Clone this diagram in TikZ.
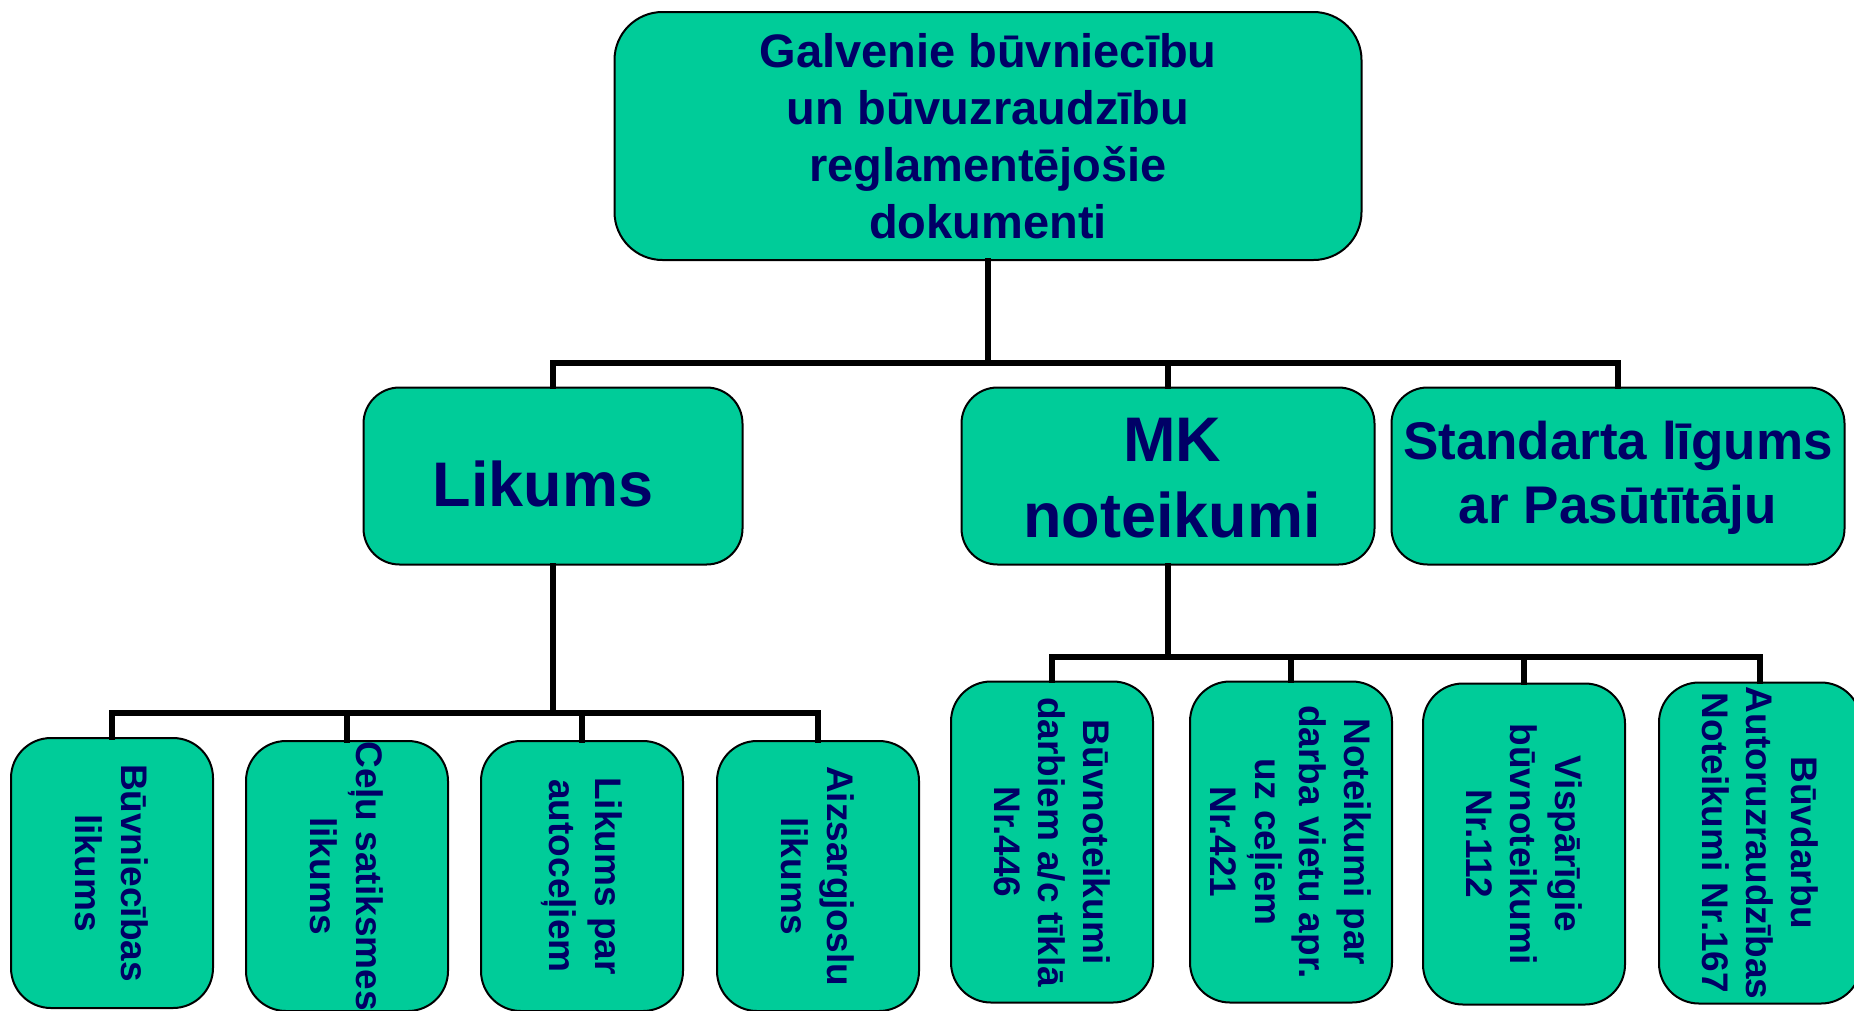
\documentclass[tikz,border=0pt]{standalone}
\usepackage{fontspec}
\setmainfont{Liberation Sans}
\definecolor{boxfill}{RGB}{0,204,153}
\definecolor{navy}{RGB}{0,0,102}
\tikzset{
  box/.style={draw=black, line width=2pt, fill=boxfill, rounded corners=#1, inner sep=0pt},
  box/.default=40pt,
  conn/.style={draw=black, line width=5.5pt, line cap=rect},
  txt/.style={text=navy, align=center, inner sep=0pt},
}
\begin{document}
\begin{tikzpicture}[x=1pt,y=-1pt]
\clip (0,0) rectangle (1854,1010);
\fill[white] (0,0) rectangle (1854,1010);
% bus coordinates
\coordinate (bus1) at (0,363);
\coordinate (bus2) at (0,713);
\coordinate (bus3) at (0,657);
% connectors level 1
\node[box=48pt, minimum width=747pt, minimum height=248pt] (top) at (988,136) {};
\node[box=36pt, minimum width=379pt, minimum height=177pt] (lik) at (553,476) {};
\node[box=36pt, minimum width=413pt, minimum height=177pt] (mk) at (1168,476) {};
\node[box=36pt, minimum width=453pt, minimum height=177pt] (std) at (1618,476) {};
\draw[conn] (top.south) -- (top.south |- bus1);
\draw[conn] (lik.north) |- (std.north |- bus1) -- (std.north);
\draw[conn] (mk.north) -- (mk.north |- bus1);
\node[txt, font={\fontsize{47}{56.8}\selectfont\bfseries}] (toptxt) at (top.center) {Galvenie būvniecību\\ un būvuzraudzību\\reglamentējošie\\dokumenti};
\node[txt, font={\fontsize{63}{75.6}\selectfont\bfseries}] (liktxt) at (543,484) {Likums};
\node[txt, font={\fontsize{63}{75.6}\selectfont\bfseries}] (mktxt) at (1172,478) {MK\\noteikumi};
\node[txt, font={\fontsize{53}{63.8}\selectfont\bfseries}] (stdtxt) at (1618,478) {Standarta līgums\\ar Pasūtītāju};
% bottom left group
\node[box=40pt, minimum width=202pt, minimum height=270pt] (b1) at (112,873) {};
\node[box=40pt, minimum width=202pt, minimum height=270pt] (b2) at (347,876) {};
\node[box=40pt, minimum width=202pt, minimum height=270pt] (b3) at (582,876) {};
\node[box=40pt, minimum width=202pt, minimum height=270pt] (b4) at (818,876) {};
\node[txt, rotate=-90, font={\fontsize{37}{46}\selectfont\bfseries}] (t1) at (b1.center) {Būvniecības\\likums};
\node[txt, rotate=-90, font={\fontsize{37}{46}\selectfont\bfseries}] (t2) at (b2.center) {Ceļu satiksmes\\likums};
\node[txt, rotate=-90, font={\fontsize{37}{46}\selectfont\bfseries}] (t3) at (b3.center) {Likums par\\autoceļiem};
\node[txt, rotate=-90, font={\fontsize{37}{46}\selectfont\bfseries}] (t4) at (b4.center) {Aizsargjoslu\\likums};
\draw[conn] (lik.south) -- (lik.south |- bus2);
\draw[conn] (b1.north) |- (b4.north |- bus2) -- (b4.north);
\draw[conn] (b2.north) -- (b2.north |- bus2);
\draw[conn] (b3.north) -- (b3.north |- bus2);
% bottom right group
\node[box=40pt, minimum width=202pt, minimum height=321pt] (b5) at (1052,842) {};
\node[box=40pt, minimum width=202pt, minimum height=321pt] (b6) at (1291,842) {};
\node[box=40pt, minimum width=202pt, minimum height=321pt] (b7) at (1524,844) {};
\node[box=40pt, minimum width=202pt, minimum height=321pt] (b8) at (1760,843) {};
\node[txt, rotate=-90, font={\fontsize{37}{44.5}\selectfont\bfseries}] (t5) at (b5.center) {Būvnoteikumi\\darbiem a/c tīklā\\Nr.446};
\node[txt, rotate=-90, font={\fontsize{37}{44.5}\selectfont\bfseries}] (t6) at (b6.center) {Noteikumi par\\darba vietu apr.\\uz ceļiem\\Nr.421};
\node[txt, rotate=-90, font={\fontsize{37}{44.5}\selectfont\bfseries}] (t7) at (b7.center) {Vispārīgie\\būvnoteikumi\\Nr.112};
\node[txt, rotate=-90, font={\fontsize{37}{44.5}\selectfont\bfseries}] (t8) at (b8.center) {Būvdarbu\\Autoruzraudzības\\Noteikumi Nr.167};
\draw[conn] (mk.south) -- (mk.south |- bus3);
\draw[conn] (b5.north) |- (b8.north |- bus3) -- (b8.north);
\draw[conn] (b6.north) -- (b6.north |- bus3);
\draw[conn] (b7.north) -- (b7.north |- bus3);
\end{tikzpicture}
\end{document}
